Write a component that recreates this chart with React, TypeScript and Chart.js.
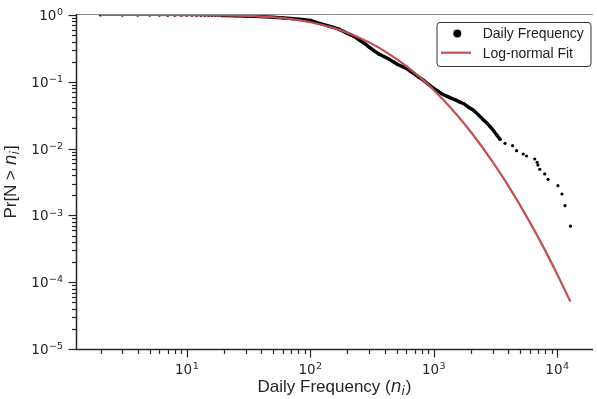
import { useEffect, useRef } from "react";
import { Chart, registerables } from "chart.js";

Chart.register(...registerables);

// ---- data ----
const freqX = [
  2, 3, 4, 5, 6, 7, 8, 9, 10, 11, 12, 13, 14, 15, 16, 17, 18, 19,
  20, 25, 30, 40, 50, 60, 70, 80, 90, 100, 110, 123, 140, 155, 168, 185,
  200, 215, 228, 250, 275, 300, 330, 360, 398, 440, 480, 509, 560, 612,
  651, 714, 760, 834, 900, 1000, 1067, 1150, 1250, 1366, 1500, 1620,
  1749, 1900, 2104, 2300, 2534, 2700, 2864, 3050, 3238, 3444,
  3776, 4355, 4690, 5308, 5648, 6580, 6880, 6980, 7220, 7920, 8440,
  10140, 10930, 11560, 12820,
];
const freqY = [
  0.9995, 0.999, 0.998, 0.997, 0.996, 0.995, 0.994, 0.993, 0.992, 0.991,
  0.99, 0.989, 0.988, 0.987, 0.986, 0.985, 0.984, 0.983,
  0.982, 0.975, 0.965, 0.945, 0.925, 0.905, 0.885, 0.865, 0.85, 0.83,
  0.785, 0.735, 0.685, 0.65, 0.62, 0.57, 0.53, 0.5, 0.475, 0.42, 0.375,
  0.33, 0.29, 0.26, 0.237, 0.215, 0.195, 0.182, 0.168, 0.155, 0.142,
  0.127, 0.117, 0.104, 0.092, 0.08, 0.0736, 0.067, 0.062, 0.0575, 0.0535,
  0.05, 0.047, 0.042, 0.0375, 0.032, 0.0268, 0.024, 0.0213, 0.0185,
  0.016, 0.0138,
  0.012, 0.01105, 0.00931, 0.0083, 0.00775, 0.00699, 0.00623, 0.00567,
  0.0049, 0.00417, 0.00347, 0.00279, 0.00209, 0.0014, 0.00069,
];
const fitX = [
  2, 5, 10, 20, 30, 50, 70, 100, 150, 200, 300, 400, 600, 800, 1000,
  1500, 2000, 3000, 4000, 6000, 8000, 10000, 12800,
];
const fitY = [
  0.999997, 0.99987, 0.9986, 0.9898, 0.973, 0.925, 0.868, 0.78, 0.649,
  0.543, 0.389, 0.288, 0.1716, 0.1105, 0.0752, 0.0339, 0.0177, 0.00633,
  0.00281, 0.000794, 0.000297, 0.000132, 0.0000512,
];
const seriesLabels = ["Daily Frequency", "Log-normal Fit"];
const xTickValues = [10, 100, 1000, 10000];
const xTickExps = ["1", "2", "3", "4"];
const yTickValues = [1e-5, 1e-4, 1e-3, 1e-2, 1e-1, 1];
const yTickExps = ["\u22125", "\u22124", "\u22123", "\u22122", "\u22121", "0"];
const tickBase = "10";
const xTitle = ["Daily Frequency (", "n", "i", ")"];
const yTitle = ["Pr[N > ", "n", "i", "]"];
const xRange = [1.265, 19500];
const yRange = [1e-5, 1];

const INK = "#262626";
const RED = "#c44e52";
const BASE_FONT = `13.5px "DejaVu Sans", sans-serif`;
const SUP_FONT = `9.5px "DejaVu Sans", sans-serif`;

function drawMath(ctx: CanvasRenderingContext2D, parts: string[], size: number) {
  const reg = `${size}px "Liberation Sans", Arial, sans-serif`;
  const ital = `italic ${size}px "DejaVu Sans", sans-serif`;
  const sub = `italic ${Math.round(size * 0.7)}px "DejaVu Sans", sans-serif`;
  ctx.font = reg;
  const w0 = ctx.measureText(parts[0]).width;
  ctx.font = ital;
  const w1 = ctx.measureText(parts[1]).width;
  ctx.font = sub;
  const w2 = ctx.measureText(parts[2]).width;
  ctx.font = reg;
  const w3 = ctx.measureText(parts[3]).width;
  const total = w0 + w1 + w2 + 1 + w3;
  let x = -total / 2;
  ctx.textBaseline = "alphabetic";
  ctx.textAlign = "left";
  ctx.font = reg;
  ctx.fillText(parts[0], x, 0);
  x += w0;
  ctx.font = ital;
  ctx.fillText(parts[1], x, 0);
  x += w1;
  ctx.font = sub;
  ctx.fillText(parts[2], x, size * 0.22);
  x += w2 + 1;
  ctx.font = reg;
  ctx.fillText(parts[3], x, 0);
}

function powerWidth(ctx: CanvasRenderingContext2D, exp: string) {
  ctx.font = BASE_FONT;
  const wb = ctx.measureText(tickBase).width;
  ctx.font = SUP_FONT;
  const ws = ctx.measureText(exp).width;
  return [wb, ws];
}

function drawPower(ctx: CanvasRenderingContext2D, exp: string, x: number, baseline: number) {
  const [wb] = powerWidth(ctx, exp);
  ctx.textAlign = "left";
  ctx.textBaseline = "alphabetic";
  ctx.font = BASE_FONT;
  ctx.fillText(tickBase, x, baseline);
  ctx.font = SUP_FONT;
  ctx.fillText(exp, x + wb + 0.5, baseline - 4.8);
}

const decorPlugin = {
  id: "decor",
  afterDraw(chart: any) {
    const { ctx, chartArea } = chart;
    const { left, right, top, bottom } = chartArea;
    const xs = chart.scales.x;
    const ys = chart.scales.y;
    ctx.save();
    // top frame line
    ctx.strokeStyle = "#8c8c8c";
    ctx.lineWidth = 1;
    ctx.beginPath();
    ctx.moveTo(left, top - 0.5);
    ctx.lineTo(right, top - 0.5);
    ctx.stroke();
    // spines
    ctx.strokeStyle = INK;
    ctx.lineWidth = 1.5;
    ctx.beginPath();
    ctx.moveTo(left + 0.5, top - 1);
    ctx.lineTo(left + 0.5, bottom + 0.5);
    ctx.lineTo(right, bottom + 0.5);
    ctx.stroke();
    // tick marks
    ctx.lineWidth = 1.2;
    for (let e = 0; e <= 4; e++) {
      for (let k = 1; k <= 9; k++) {
        const v = k * Math.pow(10, e);
        if (v < xRange[0] || v > xRange[1]) continue;
        const px = Math.round(xs.getPixelForValue(v)) + 0.5;
        const len = k === 1 ? 8 : 4.5;
        ctx.beginPath();
        ctx.moveTo(px, bottom + 0.5);
        ctx.lineTo(px, bottom + 0.5 + len);
        ctx.stroke();
      }
    }
    for (let e = -5; e <= 0; e++) {
      for (let k = 1; k <= 9; k++) {
        const v = k * Math.pow(10, e);
        if (v < yRange[0] * 0.999 || v > yRange[1] * 1.001) continue;
        const py = Math.round(ys.getPixelForValue(v)) + 0.5;
        const len = k === 1 ? 8 : 4.5;
        ctx.beginPath();
        ctx.moveTo(left + 0.5, py);
        ctx.lineTo(left + 0.5 - len, py);
        ctx.stroke();
      }
    }
    // tick labels
    ctx.fillStyle = INK;
    xTickValues.forEach((v, i) => {
      const px = xs.getPixelForValue(v);
      const [wb, ws] = powerWidth(ctx, xTickExps[i]);
      drawPower(ctx, xTickExps[i], px - (wb + ws + 0.5) / 2, 373.5);
    });
    yTickValues.forEach((v, i) => {
      const py = ys.getPixelForValue(v);
      const [wb, ws] = powerWidth(ctx, yTickExps[i]);
      drawPower(ctx, yTickExps[i], 63 - (wb + ws + 0.5), py + 5);
    });
    // axis titles
    ctx.save();
    ctx.translate((left + right) / 2, 391.5);
    drawMath(ctx, xTitle, 17);
    ctx.restore();
    ctx.save();
    ctx.translate(15.5, (top + bottom) / 2);
    ctx.rotate(-Math.PI / 2);
    drawMath(ctx, yTitle, 17);
    ctx.restore();
    // legend
    const bx = 437, by = 22.5, bw = 154, bh = 44;
    ctx.fillStyle = "rgba(255,255,255,0.9)";
    ctx.strokeStyle = "#333";
    ctx.lineWidth = 1;
    ctx.beginPath();
    ctx.roundRect(bx, by, bw, bh, 3);
    ctx.fill();
    ctx.stroke();
    ctx.fillStyle = "#000";
    ctx.beginPath();
    ctx.arc(457.3, 33.5, 4, 0, Math.PI * 2);
    ctx.fill();
    ctx.strokeStyle = RED;
    ctx.lineWidth = 2.2;
    ctx.beginPath();
    ctx.moveTo(441, 52.7);
    ctx.lineTo(471, 52.7);
    ctx.stroke();
    ctx.fillStyle = "#222";
    ctx.font = `14px "Liberation Sans", Arial, sans-serif`;
    ctx.textAlign = "left";
    ctx.textBaseline = "alphabetic";
    ctx.fillText(seriesLabels[0], 482.7, 38);
    ctx.fillText(seriesLabels[1], 482.7, 58);
    ctx.restore();
  },
};

export default function App() {
  const ref = useRef<HTMLCanvasElement | null>(null);
  useEffect(() => {
    if (!ref.current) return;
    const chart = new Chart(ref.current, {
      type: "scatter",
      data: {
        datasets: [
          {
            label: seriesLabels[0],
            data: freqX.map((x, i) => ({ x, y: freqY[i] })),
            showLine: true,
            borderColor: "#000",
            borderWidth: 3.4,
            borderCapStyle: "round",
            borderJoinStyle: "round",
            segment: {
              borderColor: (c: any) =>
                c.p0.parsed.x >= 19 && c.p1.parsed.x <= 3450 ? "#000" : "transparent",
            },
            pointRadius: 1.6,
            pointBackgroundColor: "#000",
            pointBorderWidth: 0,
            order: 1,
          },
          {
            label: seriesLabels[1],
            data: fitX.map((x, i) => ({ x, y: fitY[i] })),
            showLine: true,
            borderColor: RED,
            borderWidth: 2.2,
            cubicInterpolationMode: "monotone",
            pointRadius: 0,
            order: 0,
          },
        ],
      } as any,
      options: {
        animation: false,
        responsive: false,
        events: [],
        layout: { padding: { top: 15, right: 0, left: 0, bottom: 0 } },
        plugins: { legend: { display: false }, tooltip: { enabled: false } },
        scales: {
          x: {
            type: "logarithmic",
            position: "bottom",
            min: xRange[0],
            max: xRange[1],
            grid: { display: false, drawTicks: false },
            border: { display: false },
            afterBuildTicks: (s: any) => {
              s.ticks = xTickValues.map((v) => ({ value: v }));
            },
            afterFit: (s: any) => {
              s.height = 50;
              s.paddingLeft = 0;
              s.paddingRight = 0;
            },
            ticks: { display: false },
          },
          y: {
            type: "logarithmic",
            position: "left",
            min: yRange[0],
            max: yRange[1],
            grid: { display: false, drawTicks: false },
            border: { display: false },
            afterBuildTicks: (s: any) => {
              s.ticks = yTickValues.map((v) => ({ value: v }));
            },
            afterFit: (s: any) => {
              s.width = 76;
              s.paddingTop = 0;
              s.paddingBottom = 0;
            },
            ticks: { display: false },
          },
        },
      } as any,
      plugins: [decorPlugin],
    });
    return () => chart.destroy();
  }, []);
  return (
    <div
      style={{
        position: "fixed",
        left: 0,
        top: 0,
        width: 597,
        height: 399,
        background: "#fff",
      }}
    >
      <canvas ref={ref} width={597} height={399} style={{ display: "block" }} />
    </div>
  );
}
